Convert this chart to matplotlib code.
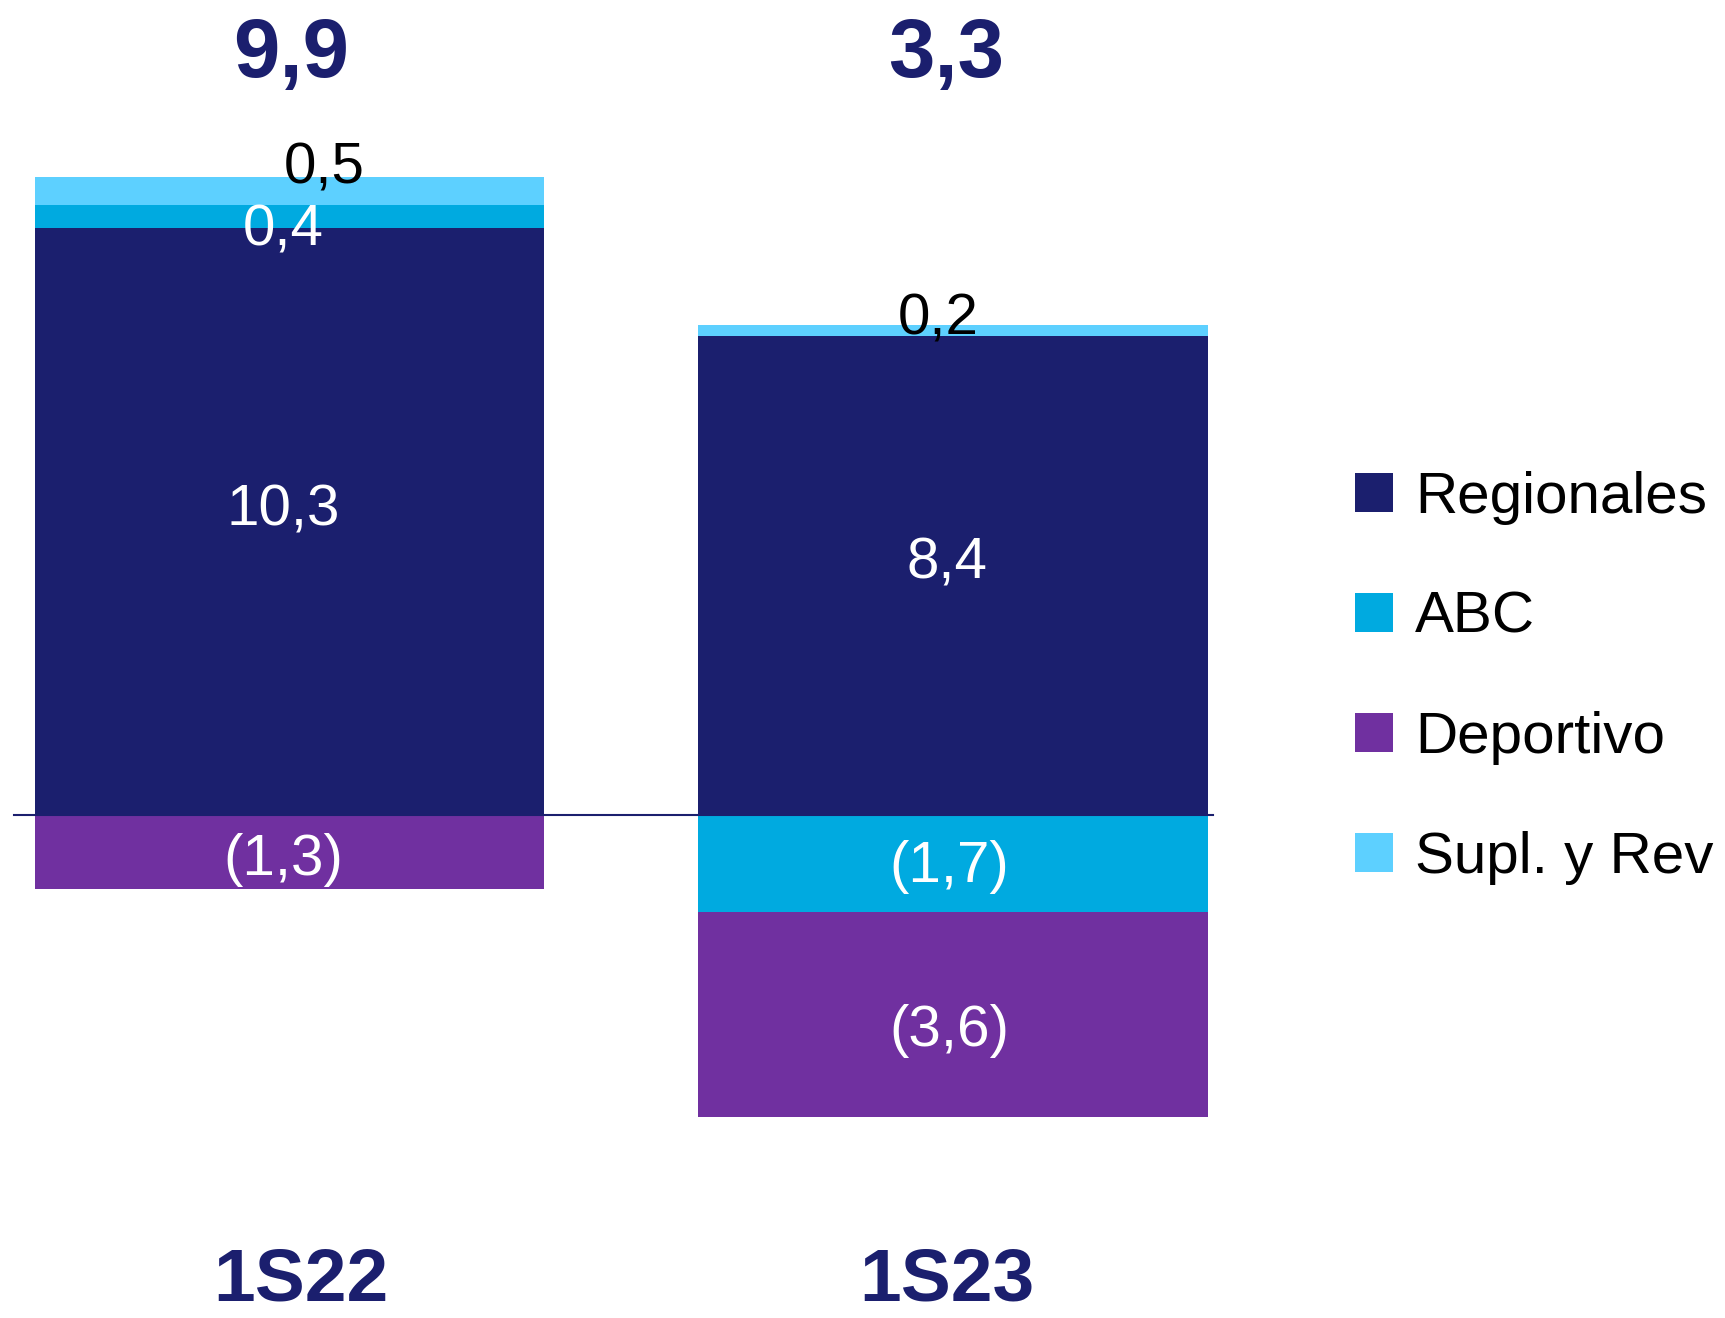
import matplotlib.pyplot as plt
import matplotlib.transforms as mtransforms
from matplotlib.patches import Patch
import numpy as np

plt.rcParams["font.family"] = ["Liberation Sans", "DejaVu Sans"]

# data
periods = ["1S22", "1S23"]
totals = ["9,9", "3,3"]
series = ["Regionales", "ABC", "Deportivo", "Supl. y Rev"]
regionales = [10.3, 8.4]
abc = [0.4, -1.7]
deportivo = [-1.3, -3.6]
supl = [0.5, 0.2]

colors = ["#1B1F6E", "#00AAE0", "#7030A0", "#5DD0FF"]
navy = "#1B1F6E"

# label style per bar segment: (colour, dx px, dy px)
label_style = {
    ("Regionales", 0): ("white", -6, 11), ("Regionales", 1): ("white", -6, 12),
    ("ABC", 0): ("white", -6, -14), ("ABC", 1): ("white", -4, -3),
    ("Deportivo", 0): ("white", -6, -8), ("Deportivo", 1): ("white", -4, -16),
    ("Supl. y Rev", 0): ("black", 35, 22), ("Supl. y Rev", 1): ("black", -15, 11),
}

def fmt(v):
    s = f"{abs(v):.1f}".replace(".", ",")
    return f"({s})" if v < 0 else s

fig = plt.figure(figsize=(17.25, 13.18), dpi=100)
ax = fig.add_axes([0, 0, 1, 1])
ax.set_xlim(-0.436, 2.163)
ax.set_ylim(-8.82, 14.30)
ax.axis("off")

x = np.arange(len(periods))
width = 0.768
pos_base = np.zeros(len(periods))
neg_base = np.zeros(len(periods))
for name, vals, col in zip(series, [regionales, abc, deportivo, supl], colors):
    vals = np.array(vals)
    bottoms = np.where(vals >= 0, pos_base, neg_base)
    ax.bar(x, vals, width, bottom=bottoms, color=col, linewidth=0, zorder=2)
    for i, v in enumerate(vals):
        c, dx, dy = label_style[(name, i)]
        ax.annotate(fmt(v), xy=(x[i], bottoms[i] + v / 2), xytext=(dx, dy),
                    textcoords="offset pixels", ha="center", va="center",
                    fontsize=42, color=c, zorder=4)
    pos_base += np.where(vals >= 0, vals, 0)
    neg_base += np.where(vals < 0, vals, 0)

# zero line
ax.plot([-0.415, 1.392], [0, 0], color=navy, linewidth=1.5, zorder=3)

# totals on top and period names at bottom
trans = mtransforms.blended_transform_factory(ax.transData, ax.transAxes)
for i, (t, p) in enumerate(zip(totals, periods)):
    ax.text(x[i] + (0.002 if i == 0 else -0.010), 0.958, t, transform=trans,
            ha="center", va="center", fontsize=60, fontweight="bold", color=navy)
    ax.text(x[i] + (0.018 if i == 0 else -0.010), 0.028, p, transform=trans,
            ha="center", va="center", fontsize=54, fontweight="bold", color=navy)

handles = [Patch(facecolor=c, edgecolor="none", label=s) for s, c in zip(series, colors)]
fig.legend(handles=handles, loc="upper left", bbox_to_anchor=(1355 / 1725, 1 - 471 / 1318),
           frameon=False, fontsize=42, handlelength=0.65, handleheight=0.65,
           handletextpad=0.38, labelspacing=1.13, borderpad=0, borderaxespad=0)

fig.savefig("out.png", dpi=100)
